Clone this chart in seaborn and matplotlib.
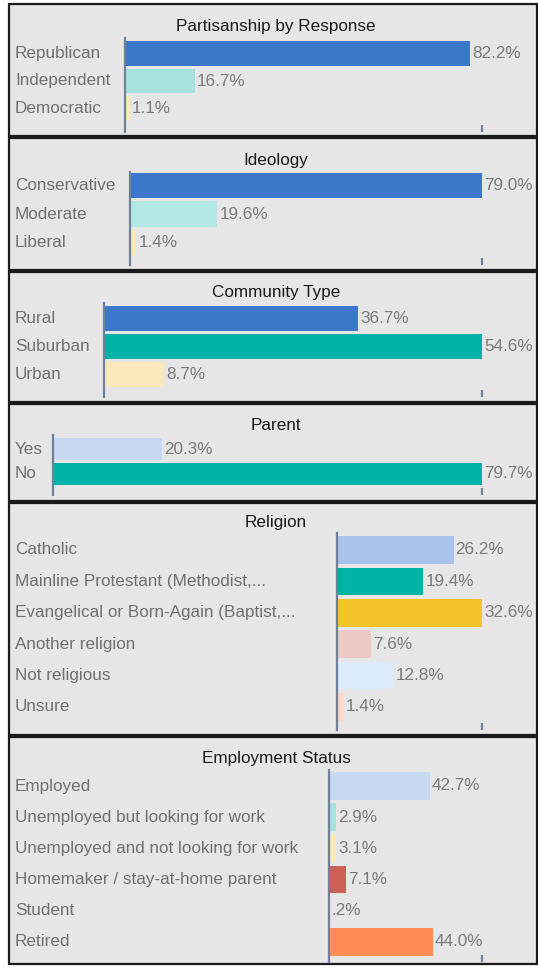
import matplotlib
matplotlib.use("Agg")
import matplotlib.pyplot as plt
import matplotlib.transforms as mtransforms
from matplotlib.patches import Rectangle
import seaborn as sns

# ---- data ----
partisan_labels = ["Republican", "Independent", "Democratic"]
partisan_vals = [82.2, 16.7, 1.1]
partisan_colors = ["#3b78c9", "#a6e3df", "#fbe8b5"]

ideology_labels = ["Conservative", "Moderate", "Liberal"]
ideology_vals = [79.0, 19.6, 1.4]
ideology_colors = ["#3b78c9", "#b3e7e3", "#fbe8b5"]

community_labels = ["Rural", "Suburban", "Urban"]
community_vals = [36.7, 54.6, 8.7]
community_colors = ["#3b78c9", "#00b3a6", "#fbe9bb"]

parent_labels = ["Yes", "No"]
parent_vals = [20.3, 79.7]
parent_colors = ["#c6d9f1", "#00b3a6"]

religion_labels = ["Catholic", "Mainline Protestant (Methodist,...",
                   "Evangelical or Born-Again (Baptist,...", "Another religion",
                   "Not religious", "Unsure"]
religion_vals = [26.2, 19.4, 32.6, 7.6, 12.8, 1.4]
religion_colors = ["#a8c3e7", "#00b3a6", "#f4c428", "#efc9c7", "#dcebfa", "#fcd8c5"]

employment_labels = ["Employed", "Unemployed but looking for work",
                     "Unemployed and not looking for work",
                     "Homemaker / stay-at-home parent", "Student", "Retired"]
employment_vals = [42.7, 2.9, 3.1, 7.1, 0.2, 44.0]
employment_colors = ["#c6d9f1", "#a6e3df", "#fbe8b5", "#cc5f57", "#b0b0b0", "#ff8c55"]

panels = [
    ("Partisanship by Response", partisan_labels, partisan_vals, partisan_colors),
    ("Ideology", ideology_labels, ideology_vals, ideology_colors),
    ("Community Type", community_labels, community_vals, community_colors),
    ("Parent", parent_labels, parent_vals, parent_colors),
    ("Religion", religion_labels, religion_vals, religion_colors),
    ("Employment Status", employment_labels, employment_vals, employment_colors),
]

# layout in pixels: box top/bottom, axis left/top/bottom, first row centre, row pitch, x max, title y
layout = [
    (4, 136, 125, 38, 132, 53.5, 27.5, 85.0, 26),
    (138, 270, 130, 172, 265, 185.5, 28.5, 79.0, 161),
    (272, 402, 104, 303, 397, 318.5, 28.0, 54.6, 292),
    (404, 501, 53, 435, 495, 449, 25.0, 79.7, 425),
    (503, 735, 337, 533, 730, 550, 31.4, 32.6, 523),
    (737, 964, 329, 770, 962, 786, 31.2, 65.0, 758),
]

W, H = 538, 974
plt.rcParams['font.family'] = ['Liberation Sans', 'DejaVu Sans']
fig = plt.figure(figsize=(W / 100, H / 100), dpi=100, facecolor="white")

axcol = "#6f8197"
right = 482


def fmt(v):
    return f"{v:.1f}%".lstrip("0")


for (title, labels, vals, colors), (bt, bb, left, T, B, c0, pitch, xmax, ty) in zip(panels, layout):
    fig.add_artist(Rectangle((9 / W, 1 - bb / H), (537 - 9) / W, (bb - bt) / H,
                             transform=fig.transFigure, facecolor="#e6e6e6",
                             edgecolor="#1a1a1a", lw=1.6, zorder=-1))
    ax = fig.add_axes([left / W, 1 - B / H, (right - left) / W, (B - T) / H])
    ax.set_facecolor("none")
    sns.barplot(x=vals, y=labels, hue=labels, palette=colors, orient="h",
                width=0.88, saturation=1, legend=False, ax=ax)
    ax.set_xlim(0, xmax)
    ax.set_ylim((B - c0) / pitch, -(c0 - T) / pitch)
    ax.set_xlabel("")
    ax.set_ylabel("")
    ax.set_yticks([])
    ax.set_xticks([xmax])
    ax.set_xticklabels([])
    ax.tick_params(axis="x", direction="in", length=5, width=1.6, color=axcol)
    for s in ["top", "right", "bottom"]:
        ax.spines[s].set_visible(False)
    ax.spines["left"].set_color(axcol)
    ax.spines["left"].set_linewidth(1.6)
    for cont, v in zip(ax.containers, vals):
        ax.bar_label(cont, labels=[fmt(v)], padding=1.5, color="#7a7a7a", fontsize=12.3)
    trans = mtransforms.blended_transform_factory(fig.transFigure, ax.transData)
    for i, lab in enumerate(labels):
        ax.text(15 / W, i, lab, transform=trans, ha="left", va="center",
                fontsize=12.3, color="#707070")
    fig.text(276 / W, 1 - ty / H, title, ha="center", va="center",
             fontsize=12.3, color="#1a1a1a")

fig.savefig("out.png", dpi=100, facecolor="white")
